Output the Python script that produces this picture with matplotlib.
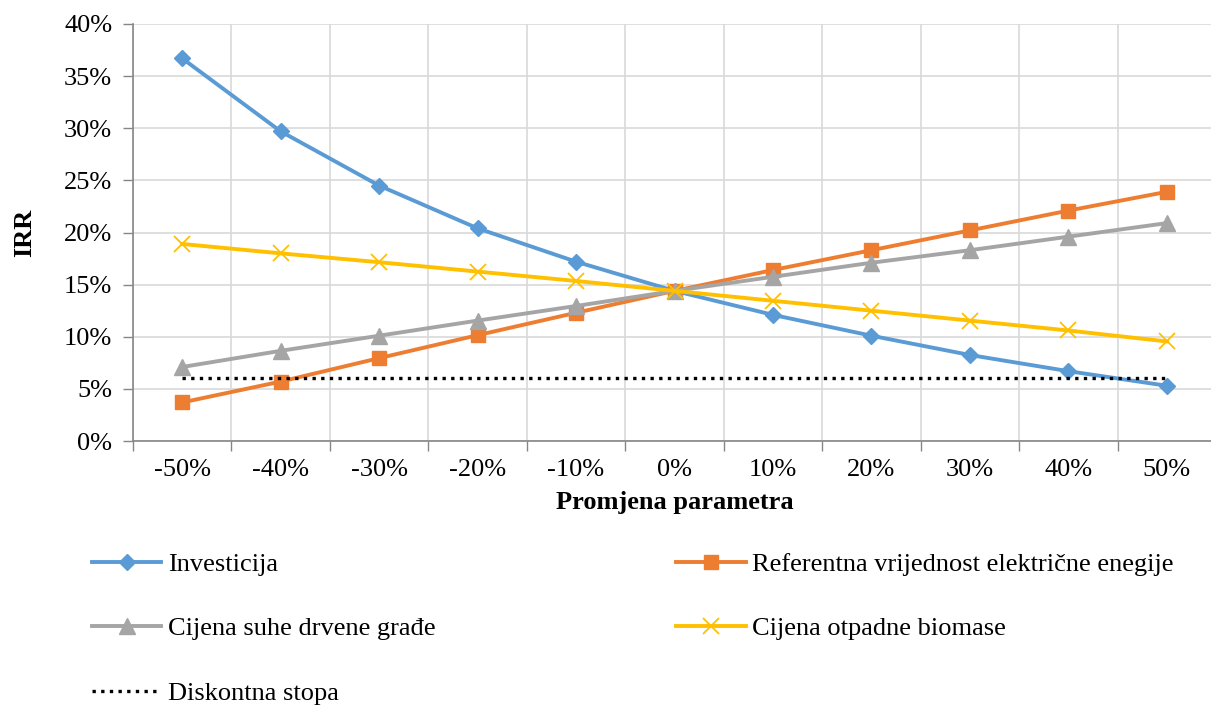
import numpy as np
import matplotlib
matplotlib.use('Agg')
import matplotlib.pyplot as plt
from matplotlib.ticker import FixedLocator, PercentFormatter

plt.rcParams['font.family'] = ['Liberation Serif', 'DejaVu Serif']

# data (IRR in %)
promjena = ['-50%', '-40%', '-30%', '-20%', '-10%', '0%', '10%', '20%', '30%', '40%', '50%']
investicija = [36.7, 29.7, 24.5, 20.4, 17.2, 14.4, 12.1, 10.1, 8.25, 6.7, 5.3]
referentna = [3.7, 5.7, 7.95, 10.15, 12.3, 14.4, 16.4, 18.3, 20.2, 22.1, 23.9]
suha_grada = [7.1, 8.65, 10.1, 11.55, 12.95, 14.4, 15.75, 17.1, 18.3, 19.6, 20.9]
otpadna_biomasa = [18.9, 18.0, 17.15, 16.25, 15.35, 14.4, 13.45, 12.5, 11.55, 10.6, 9.55]
diskontna = [6.0] * 11

x = np.arange(len(promjena))
fs = 19

fig = plt.figure(figsize=(12.11, 7.05), dpi=100, facecolor='w')
ax = fig.add_axes([133 / 1211, 1 - 441 / 705, (1216 - 133) / 1211, (441 - 24) / 705])

lw = 2.8
ax.plot(x, investicija, color='#5B9BD5', lw=lw, marker='D', ms=8.5, label='Investicija', zorder=3)
ax.plot(x, referentna, color='#ED7D31', lw=lw, marker='s', ms=10.5, label='Referentna vrijednost električne enegije', zorder=3)
ax.plot(x, suha_grada, color='#A5A5A5', lw=lw, marker='^', ms=11, label='Cijena suhe drvene građe', zorder=3)
ax.plot(x, otpadna_biomasa, color='#FFC000', lw=lw, marker='x', ms=11, mew=1.3, label='Cijena otpadne biomase', zorder=3)
ax.plot(x, diskontna, color='black', lw=2.4, ls=(0, (1, 1.6)), label='Diskontna stopa', zorder=4)

ax.set_xlim(-0.5, 10.5)
ax.set_ylim(0, 40)
ax.set_yticks(np.arange(0, 41, 5))
ax.yaxis.set_major_formatter(PercentFormatter(decimals=0))
ax.set_xticks(x)
ax.set_xticklabels(promjena)
ax.xaxis.set_minor_locator(FixedLocator(np.arange(-0.5, 11, 1)))
ax.tick_params(axis='x', which='major', length=0, pad=13, labelsize=fs)
ax.tick_params(axis='x', which='minor', length=7, width=1, color='#868686', direction='out')
ax.tick_params(axis='y', length=7, width=1, color='#868686', pad=8, labelsize=fs)

ax.grid(True, axis='y', which='major', color='#D9D9D9', lw=1.2)
ax.grid(True, axis='x', which='minor', color='#D9D9D9', lw=1.2)
ax.set_axisbelow(True)
for s in ['top', 'right']:
    ax.spines[s].set_visible(False)
for s in ['left', 'bottom']:
    ax.spines[s].set_color('#868686')
    ax.spines[s].set_linewidth(1.2)

ax.set_xlabel('Promjena parametra', fontsize=fs, fontweight='bold', labelpad=7)
ax.set_ylabel('IRR', fontsize=fs, fontweight='bold', labelpad=20)

h, l = ax.get_legend_handles_labels()
order = [0, 2, 4, 1, 3]
fig.legend([h[i] for i in order], [l[i] for i in order], ncol=2,
           loc='upper left', bbox_to_anchor=(81 / 1211, 1 - 542 / 705),
           frameon=False, fontsize=fs, handlelength=2.65, handletextpad=0.25,
           labelspacing=1.55, columnspacing=9.1, borderaxespad=0)

fig.savefig('out.png', dpi=100, facecolor='w')
